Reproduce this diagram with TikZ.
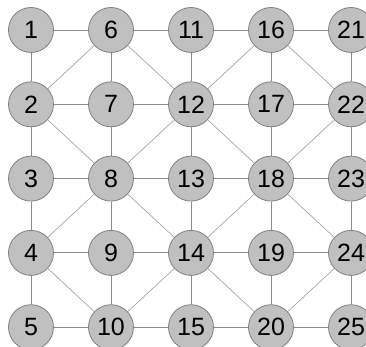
\documentclass[tikz,border=0pt]{standalone}
\usepackage{fontspec}
\setmainfont{Liberation Sans}
\definecolor{nodefill}{HTML}{C0C0C0}
\definecolor{nodeedge}{HTML}{808080}
\definecolor{edgecol}{HTML}{8C8C8C}
\begin{document}
\begin{tikzpicture}[x=1pt,y=-1pt,
  vtx/.style={circle,fill=nodefill,draw=nodeedge,line width=0.8pt,minimum size=45pt,inner sep=0pt,font=\fontsize{25}{25}\selectfont},
  edge/.style={draw=edgecol,line width=0.9pt},
  diag/.style={draw=edgecol!80,line width=0.7pt}]
\useasboundingbox (0,0) rectangle (366,347);
\foreach \c in {0,...,4}{
  \foreach \r in {0,...,4}{
    \pgfmathtruncatemacro{\n}{\c*5+\r+1}
    \node[vtx] (v\n) at ({31+80*\c},{30+74.3*\r}) {\n};
  }
}
% grid edges
\foreach \c in {0,...,4}{
  \foreach \r in {0,...,3}{
    \pgfmathtruncatemacro{\a}{\c*5+\r+1}
    \pgfmathtruncatemacro{\b}{\a+1}
    \draw[edge] (v\a) -- (v\b);
  }
}
\foreach \c in {0,...,3}{
  \foreach \r in {0,...,4}{
    \pgfmathtruncatemacro{\a}{\c*5+\r+1}
    \pgfmathtruncatemacro{\b}{\a+5}
    \draw[edge] (v\a) -- (v\b);
  }
}
% diagonals
\foreach \a/\b in {2/6,6/12,2/8,8/12,12/16,16/22,12/18,18/22,4/8,8/14,4/10,10/14,14/18,18/24,14/20,20/24}{
  \draw[diag] (v\a) -- (v\b);
}
\end{tikzpicture}
\end{document}
